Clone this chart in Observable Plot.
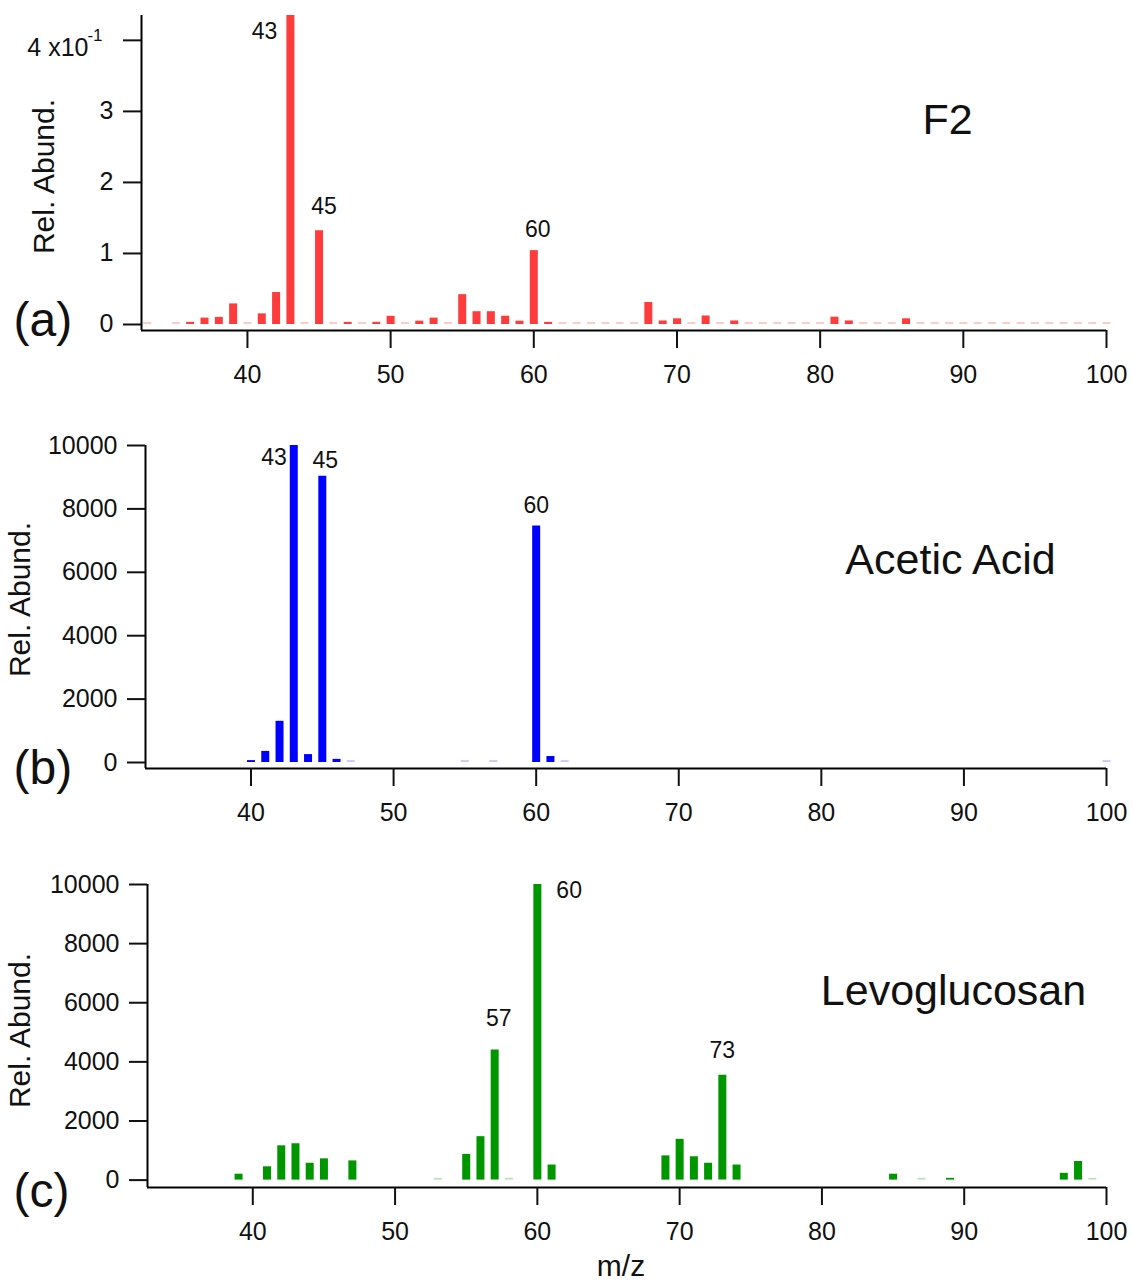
<!DOCTYPE html>
<html>
<head>
<meta charset="utf-8">
<script src="https://cdn.jsdelivr.net/npm/d3@7"></script>
<script src="https://cdn.jsdelivr.net/npm/@observablehq/plot@0.6"></script>
<style>
  body { margin: 0; background: #fff; }
  #chart svg { display: block; }
</style>
</head>
<body>
<div id="chart"></div>
<script>
// ---------- shared x axis ----------
const xDomain = [32.6, 100];
const xTicks = [40, 50, 60, 70, 80, 90, 100];

// ---------- (a) F2 ----------
const f2Mz  = [36, 37, 38, 39, 41, 42, 43, 45, 47, 49, 50, 52, 53, 55, 56, 57, 58, 59, 60, 61, 68, 69, 70, 72, 74, 81, 82, 86];
const f2Val = [0.003, 0.009, 0.010, 0.029, 0.015, 0.045, 0.435, 0.132, 0.003, 0.003, 0.0115, 0.0047, 0.009, 0.042, 0.018, 0.018, 0.0117, 0.0047, 0.104, 0.003, 0.031, 0.005, 0.008, 0.012, 0.005, 0.0103, 0.005, 0.008];
const f2TraceMz = [33, 35, 40, 44, 46, 48, 51, 54, 62, 63, 64, 65, 66, 67, 71, 73, 75, 76, 77, 78, 79, 80, 83, 84, 85, 87, 88, 89, 90, 91, 92, 93, 94, 95, 96, 97, 98, 99, 100];
const f2TraceLevel = 0.0028;
const f2YDomain = [-0.00845, 0.435];
const f2YTicks = [0, 0.1, 0.2, 0.3, 0.4];
const f2YTickLabels = ["0", "1", "2", "3", ""];
const f2ExpBase = "4 x10";
const f2ExpPower = "-1";
const f2Labels = [43, 45, 60];

// ---------- (b) Acetic Acid ----------
const acMz  = [40, 41, 42, 43, 44, 45, 46, 60, 61];
const acVal = [60, 350, 1300, 10000, 250, 9030, 100, 7460, 190];
const acTraceMz = [47, 55, 57, 62, 100];
const acTraceLevel = 60;
const acYDomain = [-189, 10000];
const acYTicks = [0, 2000, 4000, 6000, 8000, 10000];
const acLabels = [43, 45, 60];

// ---------- (c) Levoglucosan ----------
const lvMz  = [39, 41, 42, 43, 44, 45, 47, 55, 56, 57, 60, 61, 69, 70, 71, 72, 73, 74, 85, 89, 97, 98];
const lvVal = [200, 450, 1160, 1230, 570, 720, 650, 870, 1470, 4400, 10000, 510, 820, 1380, 790, 570, 3550, 510, 200, 60, 230, 630];
const lvTraceMz = [53, 58, 87, 99];
const lvTraceLevel = 60;
const lvYDomain = [-250, 10000];
const lvYTicks = [0, 2000, 4000, 6000, 8000, 10000];
const lvLabels = [60, 57, 73];

const yTitle = "Rel. Abund.";
const xTitle = "m/z";

const FONT = "'Liberation Sans', Arial, Helvetica, sans-serif";

function panel(cfg) {
  const bars = cfg.mz.map((m, i) => ({mz: m, v: cfg.val[i]}));
  const traces = cfg.traceMz.map(m => ({mz: m, v: cfg.traceLevel}));
  const lookup = new Map(bars.map(d => [d.mz, d.v]));
  const marks = [
    Plot.ruleX(traces, {x: "mz", y1: 0, y2: "v", stroke: cfg.light, strokeWidth: 8}),
    Plot.ruleX(bars, {x: "mz", y1: 0, y2: "v", stroke: cfg.color, strokeWidth: 8}),
    Plot.ruleY([cfg.yDomain[0]], {stroke: "black", strokeWidth: 2}),
    Plot.ruleX([xDomain[0]], {stroke: "black", strokeWidth: 2}),
    Plot.axisX({ticks: xTicks, tickSize: 18, tickPadding: 17, strokeWidth: 2, label: null, tickFormat: d => String(d)}),
    Plot.axisY({ticks: cfg.yTicks, tickSize: 18, tickPadding: 10, strokeWidth: 2, label: null, tickFormat: cfg.yFormat}),
    ...cfg.labels.map((m, i) => {
      const o = cfg.labelStyle[i];
      return Plot.text([{mz: m, v: lookup.get(m), t: String(m)}], {
        x: "mz", y: "v", text: "t", dx: o.dx, dy: o.dy,
        textAnchor: o.anchor || "middle", lineAnchor: "middle", fontSize: 23, fill: "#111"
      });
    }),
    Plot.text([cfg.title], {frameAnchor: "top-left", dx: cfg.titleDx, dy: cfg.titleDy, fontSize: 43, textAnchor: "middle", lineAnchor: "middle", fill: "#111"}),
    Plot.text([cfg.letter], {frameAnchor: "bottom-left", dx: cfg.letterDx, dy: cfg.letterDy, fontSize: 48, textAnchor: "start", lineAnchor: "bottom", fill: "#111"}),
    Plot.text([yTitle], {frameAnchor: "left", rotate: -90, dx: cfg.yTitleDx, dy: cfg.yTitleDy, fontSize: 30, textAnchor: "middle", lineAnchor: "middle", fill: "#111"}),
    ...(cfg.extra || [])
  ];
  return Plot.plot({
    width: 1133,
    height: cfg.height,
    marginLeft: cfg.marginLeft,
    marginRight: 27,
    marginTop: cfg.marginTop,
    marginBottom: cfg.marginBottom,
    x: {domain: xDomain},
    y: {domain: cfg.yDomain},
    style: {fontFamily: FONT, fontSize: "25px", background: "white", color: "#111", overflow: "visible"},
    marks
  });
}

const chart = document.getElementById("chart");

// (a)
chart.appendChild(panel({
  mz: f2Mz, val: f2Val, traceMz: f2TraceMz, traceLevel: f2TraceLevel,
  color: "#ff3b3b", light: "#ffcccc",
  yDomain: f2YDomain, yTicks: f2YTicks,
  yFormat: (d, i) => f2YTickLabels[f2YTicks.indexOf(d)],
  marginLeft: 141, marginTop: 15, marginBottom: 70, height: 400,
  labels: f2Labels,
  labelStyle: [{dx: -13, dy: 16, anchor: "end"}, {dx: 5, dy: -24}, {dx: 4, dy: -21}],
  title: "F2", titleDx: 806, titleDy: 105,
  letter: "(a)", letterDx: -128, letterDy: 5,
  yTitleDx: -97, yTitleDy: 3.5,
  extra: [
    Plot.text([{x: xDomain[0], y: f2YTicks[4]}], {x: "x", y: "y", text: () => f2ExpBase, textAnchor: "end", lineAnchor: "middle", dx: -53, dy: 8, fontSize: 25, fill: "#111"}),
    Plot.text([{x: xDomain[0], y: f2YTicks[4]}], {x: "x", y: "y", text: () => f2ExpPower, textAnchor: "end", lineAnchor: "middle", dx: -39, dy: -5, fontSize: 17, fill: "#111"})
  ]
}));

// (b)
chart.appendChild(panel({
  mz: acMz, val: acVal, traceMz: acTraceMz, traceLevel: acTraceLevel,
  color: "#0000ff", light: "#c8c8ff",
  yDomain: acYDomain, yTicks: acYTicks,
  yFormat: d => d3.format("d")(d),
  marginLeft: 145, marginTop: 45, marginBottom: 50, height: 418,
  labels: acLabels,
  labelStyle: [{dx: -7, dy: 12, anchor: "end"}, {dx: 3, dy: -16}, {dx: 0, dy: -20}],
  title: "Acetic Acid", titleDx: 805, titleDy: 115,
  letter: "(b)", letterDx: -132, letterDy: 15,
  yTitleDx: -125, yTitleDy: -7.5
}));

// (c)
chart.appendChild(panel({
  mz: lvMz, val: lvVal, traceMz: lvTraceMz, traceLevel: lvTraceLevel,
  color: "#009600", light: "#b8e2b8",
  yDomain: lvYDomain, yTicks: lvYTicks,
  yFormat: d => d3.format("d")(d),
  marginLeft: 147, marginTop: 66, marginBottom: 94, height: 463,
  labels: lvLabels,
  labelStyle: [{dx: 19, dy: 6.5, anchor: "start"}, {dx: 4, dy: -31}, {dx: 0, dy: -25}],
  title: "Levoglucosan", titleDx: 806, titleDy: 107,
  letter: "(c)", letterDx: -134, letterDy: 19,
  yTitleDx: -127, yTitleDy: -5.5,
  extra: [
    Plot.text([xTitle], {frameAnchor: "bottom", dx: -6, dy: 79, fontSize: 30, lineAnchor: "middle", fill: "#111"})
  ]
}));
</script>
</body>
</html>
